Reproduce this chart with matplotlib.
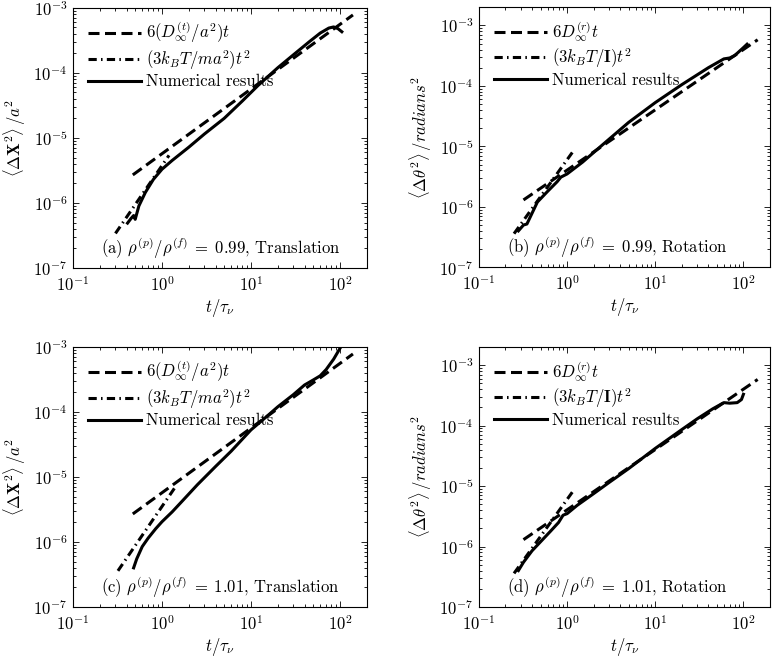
import numpy as np
import matplotlib
matplotlib.use("Agg")
import matplotlib.pyplot as plt

# --- fonts: LaTeX look ---
plt.rcParams['font.family'] = ['cmr10', 'DejaVu Serif']
plt.rcParams['mathtext.fontset'] = 'cm'
plt.rcParams['axes.formatter.use_mathtext'] = True
plt.rcParams['font.size'] = 12

# --- data ---
# theory lines (end points of straight lines on log-log axes)
trans_lin_t = [0.47, 140]
trans_lin_y = [2.7e-6, 7.8e-4]
rot_lin_t = [0.32, 145]
rot_lin_y = [1.3e-6, 5.8e-4]

trans_quad_t_a = [0.3, 1.2]
trans_quad_y_a = [3.4e-7, 5.4e-6]
trans_quad_t_c = [0.32, 1.45]
trans_quad_y_c = [3.6e-7, 7.4e-6]
rot_quad_t = [0.25, 1.15]
rot_quad_y = [3.6e-7, 8.0e-6]

# numerical results
num_t_a = [0.41, 0.45, 0.48, 0.5, 0.55, 0.65, 0.8, 1.0, 1.3, 2, 3, 5, 8, 12, 20, 30, 45, 60, 75, 85, 95, 105]
num_y_a = [4.9e-7, 5.8e-7, 6.4e-7, 5.6e-7, 9.0e-7, 1.45e-6, 2.3e-6, 3.3e-6, 4.5e-6, 7.2e-6, 1.15e-5,
           2.0e-5, 3.7e-5, 6.4e-5, 1.2e-4, 1.9e-4, 3.0e-4, 4.1e-4, 4.9e-4, 5.1e-4, 4.8e-4, 4.3e-4]

num_t_b = [0.28, 0.32, 0.35, 0.46, 0.6, 0.77, 0.85, 1.0, 1.5, 2.5, 5, 10, 20, 40, 60, 70, 80, 100, 110]
num_y_b = [4.0e-7, 5.0e-7, 5.2e-7, 1.2e-6, 1.8e-6, 2.6e-6, 3.1e-6, 3.5e-6, 5.5e-6, 1.05e-5, 2.5e-5,
           5.3e-5, 1.05e-4, 2.0e-4, 2.8e-4, 2.9e-4, 3.2e-4, 4.3e-4, 4.9e-4]

num_t_c = [0.48, 0.52, 0.6, 0.7, 0.85, 1.0, 1.3, 1.7, 2.5, 4, 6, 10, 15, 20, 30, 40, 50, 60, 70, 85, 100]
num_y_c = [4.0e-7, 5.5e-7, 8.5e-7, 1.15e-6, 1.6e-6, 2.05e-6, 2.9e-6, 4.3e-6, 7.6e-6, 1.45e-5, 2.5e-5,
           5.3e-5, 8.5e-5, 1.2e-4, 1.85e-4, 2.6e-4, 3.1e-4, 3.6e-4, 4.5e-4, 6.5e-4, 9.5e-4]

num_t_d = [0.28, 0.32, 0.4, 0.5, 0.65, 0.8, 0.9, 1.0, 1.3, 2, 3, 5, 10, 20, 30, 45, 60, 70, 85, 95, 100]
num_y_d = [4.0e-7, 5.5e-7, 8.5e-7, 1.2e-6, 1.8e-6, 2.5e-6, 3.3e-6, 3.5e-6, 4.8e-6, 7.5e-6, 1.15e-5,
           1.95e-5, 4.2e-5, 8.6e-5, 1.3e-4, 1.9e-4, 2.4e-4, 2.35e-4, 2.4e-4, 2.7e-4, 3.3e-4]

labels_trans = [r'$6(D_\infty^{(t)}/a^2)t$', r'$(3k_BT/ma^2)t^2$', 'Numerical results']
labels_rot = [r'$6D_\infty^{(r)}t$', r'$(3k_BT/\mathbf{I})t^2$', 'Numerical results']

panels = [
    # pos, lin, quad, num, labels, ylabel, ytop, note
    ([0.0942, 0.594, 0.379, 0.394], (trans_lin_t, trans_lin_y), (trans_quad_t_a, trans_quad_y_a),
     (num_t_a, num_y_a), labels_trans, r'$\langle \Delta \mathbf{X}^2 \rangle\, / a^2$', 1e-3,
     r'(a) $\rho^{(p)}/\rho^{(f)}\;=\;0.99$, Translation'),
    ([0.618, 0.595, 0.3755, 0.394], (rot_lin_t, rot_lin_y), (rot_quad_t, rot_quad_y),
     (num_t_b, num_y_b), labels_rot, r'$\langle \Delta \theta^2 \rangle\, / radians^2$', 2e-3,
     r'(b) $\rho^{(p)}/\rho^{(f)}\;=\;0.99$, Rotation'),
    ([0.0942, 0.0803, 0.379, 0.394], (trans_lin_t, trans_lin_y), (trans_quad_t_c, trans_quad_y_c),
     (num_t_c, num_y_c), labels_trans, r'$\langle \Delta \mathbf{X}^2 \rangle\, / a^2$', 1e-3,
     r'(c) $\rho^{(p)}/\rho^{(f)}\;=\;1.01$, Translation'),
    ([0.618, 0.0803, 0.3755, 0.394], (rot_lin_t, rot_lin_y), (rot_quad_t, rot_quad_y),
     (num_t_d, num_y_d), labels_rot, r'$\langle \Delta \theta^2 \rangle\, / radians^2$', 2e-3,
     r'(d) $\rho^{(p)}/\rho^{(f)}\;=\;1.01$, Rotation'),
]

fig = plt.figure(figsize=(7.75, 6.6), dpi=100)

for pos, lin, quad, num, labels, ylab, ytop, note in panels:
    ax = fig.add_axes(pos)
    ax.plot(lin[0], lin[1], color='black', lw=2.2, linestyle=(0, (3.6, 1.8)), label=labels[0])
    ax.plot(quad[0], quad[1], color='black', lw=2.2, linestyle=(0, (2.7, 1.4, 0.5, 1.4)), label=labels[1])
    ax.plot(num[0], num[1], color='black', lw=2.2, linestyle='-', label=labels[2])
    ax.set_xscale('log')
    ax.set_yscale('log')
    ax.set_xlim(0.1, 200)
    ax.set_ylim(1e-7, ytop)
    ax.set_yticks([1e-7, 1e-6, 1e-5, 1e-4, 1e-3])
    ax.set_xticks([1e-1, 1e0, 1e1, 1e2])
    ax.tick_params(which='both', direction='in', top=True, right=True, width=0.6)
    ax.tick_params(which='major', length=4)
    ax.tick_params(which='minor', length=2)
    ax.tick_params(axis='x', pad=5)
    ax.tick_params(axis='y', pad=4)
    for s in ax.spines.values():
        s.set_linewidth(0.8)
    ax.set_xlabel(r'$t/\tau_\nu$', labelpad=2)
    ax.set_ylabel(ylab)
    ax.legend(loc='upper left', bbox_to_anchor=(0.05, 0.955), frameon=False, borderpad=0,
              borderaxespad=0, handlelength=3.2, handletextpad=0.3, labelspacing=0.15)
    ax.text(0.095, 0.075, note, transform=ax.transAxes, ha='left', va='center')

fig.savefig('out.png', dpi=100)
